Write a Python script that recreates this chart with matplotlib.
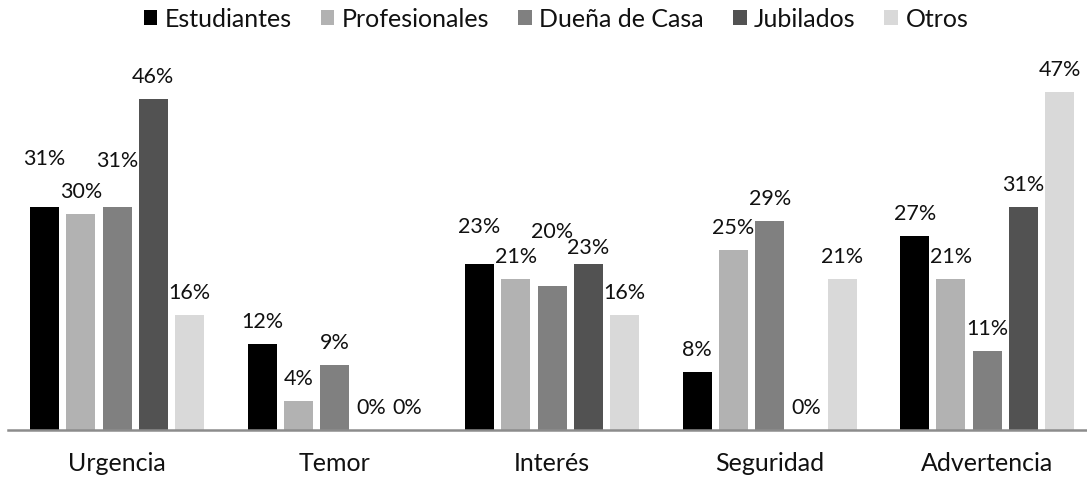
import matplotlib.pyplot as plt
import numpy as np

plt.rcParams["font.family"] = ["Lato", "DejaVu Sans"]

categories = ["Urgencia", "Temor", "Interés", "Seguridad", "Advertencia"]
series_names = ["Estudiantes", "Profesionales", "Dueña de Casa", "Jubilados", "Otros"]
estudiantes = [31, 12, 23, 8, 27]
profesionales = [30, 4, 21, 25, 21]
duena_de_casa = [31, 9, 20, 29, 11]
jubilados = [46, 0, 23, 0, 31]
otros = [16, 0, 16, 21, 47]

series = [estudiantes, profesionales, duena_de_casa, jubilados, otros]
colors = ["#000000", "#b2b2b2", "#808080", "#525252", "#d9d9d9"]

# labels that were moved by hand in the original (extra height, in % units)
label_nudge = {(0, 0): 3.6, (2, 0): 3.3, (0, 2): 2.2, (2, 2): 4.4, (3, 2): -0.8}

W, H = 1087, 481
fig = plt.figure(figsize=(W / 100, H / 100), dpi=100)
x0, x1, y_base, y_top = 8.25, 1096, 431, 71
ax = fig.add_axes([x0 / W, 1 - y_base / H, (x1 - x0) / W, (y_base - y_top) / H])

x = np.arange(len(categories))
pitch = 1 / 6
width = 0.1333
for i, (name, vals, c) in enumerate(zip(series_names, series, colors)):
    pos = x + (i - 2) * pitch
    ax.bar(pos, vals, width=width, color=c, label=name, zorder=2)
    for j, (px, v) in enumerate(zip(pos, vals)):
        ax.text(px, v + 3.2 + label_nudge.get((i, j), 0), f"{v}%",
                ha="center", va="center", fontsize=15.5, color="#111111")

ax.set_xlim(-0.5, len(categories) - 0.5)
ax.set_ylim(0, 50)
ax.set_xticks(x)
ax.set_xticklabels(categories, fontsize=18, color="#111111")
ax.tick_params(axis="x", length=0, pad=15)
ax.set_yticks([])
for s in ["top", "right", "left"]:
    ax.spines[s].set_visible(False)
ax.spines["bottom"].set_color("#8c8c8c")
ax.spines["bottom"].set_linewidth(1.8)
ax.spines["bottom"].set_zorder(3)

leg = fig.legend(loc="center", bbox_to_anchor=(556 / W, 1 - 19.5 / H), ncol=5,
                 frameon=False, fontsize=18, handlelength=0.55, handleheight=0.55,
                 handletextpad=0.3, columnspacing=1.15, borderaxespad=0)
for t in leg.get_texts():
    t.set_color("#111111")

fig.savefig("out.png", dpi=100)
